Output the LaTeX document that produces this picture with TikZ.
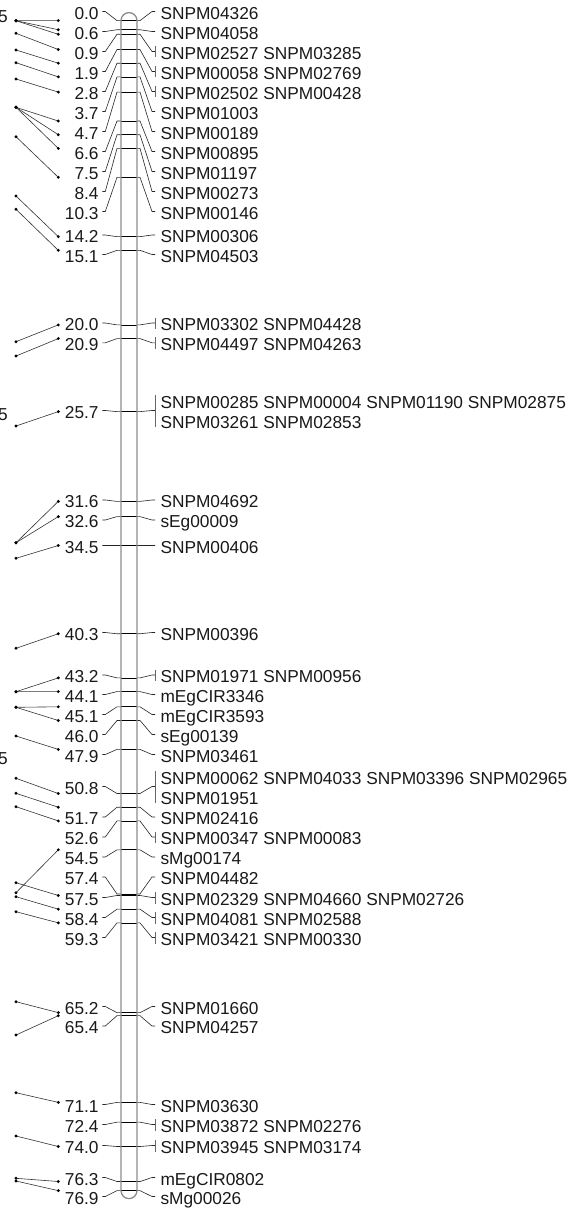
\documentclass[tikz,border=0pt]{standalone}
\usepackage{fontspec}
\setmainfont{Liberation Sans}
\newcommand{\lab}{\fontsize{17.3}{20}\selectfont}
\tikzset{
  numlab/.style={anchor=east, inner sep=0pt, text height=15.2pt, text depth=0pt, font=\lab, text=black!90},
  mlab/.style={anchor=west, inner sep=0pt, text height=15.2pt, text depth=0pt, font=\lab, text=black!90},
  conn/.style={draw=black!85, line width=0.6pt},
  tickl/.style={draw=black, line width=0.7pt},
  chrom/.style={draw=black!45, line width=1.3pt},
  barl/.style={draw=black!60, line width=0.8pt},
  link/.style={draw=black!80, line width=0.6pt},
}
% locus: id, cM, label centre
\newcommand{\Loc}[3]{%
  \coordinate (cl#1) at (121,{20.6+15.215*#2});
  \coordinate (cr#1) at (137,{20.6+15.215*#2});
  \coordinate (r#1) at (58.3,{20.6+15.215*#2});
  \node[numlab] (n#1) at (98.8,{#3-1.5}) {#2};
  \draw[conn] ([xshift=3.5pt]n#1.east) -- ++(3,0) -- ([xshift=-4pt]cl#1) -- (cl#1);
  \draw[tickl] (cl#1) -- (cr#1);
}
\newcommand{\Rs}[3]{%
  \node[mlab] (m#1) at (160.3,{#2-1.5}) {#3};
  \draw[conn] (cr#1) -- ++(3,0) -- ([xshift=-8.3pt]m#1.west) -- ([xshift=-5.3pt]m#1.west);
}
\newcommand{\Rb}[3]{%
  \Rs{#1}{#2}{#3}
  \coordinate (bt#1) at (155,{#2-7});
  \coordinate (bb#1) at (155,{#2+4.5});
  \draw[barl] (bt#1) -- (bb#1);
}
\newcommand{\Rbb}[5]{%
  \node[mlab] (m#1) at (160.3,{#2-1.5}) {#3};
  \node[mlab] (mm#1) at (160.3,{#4-1.5}) {#5};
  \coordinate (bc#1) at (155,{(#2+#4)/2-1.5});
  \coordinate (bt#1) at (155,{#2-7});
  \coordinate (bb#1) at (155,{#4+4.5});
  \draw[barl] (bt#1) -- (bb#1);
  \draw[conn] (cr#1) -- ++(3,0) -- ([xshift=-3pt]bc#1) -- (bc#1);
}
\newcommand{\Lnk}[2]{%
  \draw[link] (#1) -- (#2);
  \fill[black] (#1) circle[radius=1.6];
  \fill[black] (#2) circle[radius=1.6];
}
\begin{document}
\begin{tikzpicture}[x=1pt,y=-1pt]
\useasboundingbox[fill=white] (0,0) rectangle (569,1209);

% loci on the map
\Loc{k1}{0.0}{13}     \Rs{k1}{13}{SNPM04326}
\Loc{k2}{0.6}{33}     \Rs{k2}{33}{SNPM04058}
\Loc{k3}{0.9}{53}     \Rb{k3}{53}{SNPM02527 SNPM03285}
\Loc{k4}{1.9}{73}     \Rb{k4}{73}{SNPM00058 SNPM02769}
\Loc{k5}{2.8}{93}     \Rb{k5}{93}{SNPM02502 SNPM00428}
\Loc{k6}{3.7}{113}    \Rs{k6}{113}{SNPM01003}
\Loc{k7}{4.7}{133}    \Rs{k7}{133}{SNPM00189}
\Loc{k8}{6.6}{153}    \Rs{k8}{153}{SNPM00895}
\Loc{k9}{7.5}{173}    \Rs{k9}{173}{SNPM01197}
\Loc{k10}{8.4}{193}   \Rs{k10}{193}{SNPM00273}
\Loc{k11}{10.3}{213}  \Rs{k11}{213}{SNPM00146}
\Loc{k12}{14.2}{236.5} \Rs{k12}{236.5}{SNPM00306}
\Loc{k13}{15.1}{256}  \Rs{k13}{256}{SNPM04503}
\Loc{k14}{20.0}{324.5} \Rb{k14}{324.5}{SNPM03302 SNPM04428}
\Loc{k15}{20.9}{344.3} \Rb{k15}{344.3}{SNPM04497 SNPM04263}
\Loc{k16}{25.7}{412}  \Rbb{k16}{402}{SNPM00285 SNPM00004 SNPM01190 SNPM02875}{422}{SNPM03261 SNPM02853}
\Loc{k17}{31.6}{501.5} \Rs{k17}{501.5}{SNPM04692}
\Loc{k18}{32.6}{521.5} \Rs{k18}{521.5}{sEg00009}
\Loc{k19}{34.5}{547}  \Rs{k19}{547}{SNPM00406}
\Loc{k20}{40.3}{634}  \Rs{k20}{634}{SNPM00396}
\Loc{k21}{43.2}{676.5} \Rb{k21}{676.5}{SNPM01971 SNPM00956}
\Loc{k22}{44.1}{696}  \Rs{k22}{696}{mEgCIR3346}
\Loc{k23}{45.1}{716}  \Rs{k23}{716}{mEgCIR3593}
\Loc{k24}{46.0}{736}  \Rs{k24}{736}{sEg00139}
\Loc{k25}{47.9}{756}  \Rs{k25}{756}{SNPM03461}
\Loc{k26}{50.8}{788}  \Rbb{k26}{778}{SNPM00062 SNPM04033 SNPM03396 SNPM02965}{798}{SNPM01951}
\Loc{k27}{51.7}{818.5} \Rs{k27}{818.5}{SNPM02416}
\Loc{k28}{52.6}{838.5} \Rb{k28}{838.5}{SNPM00347 SNPM00083}
\Loc{k29}{54.5}{858.5} \Rs{k29}{858.5}{sMg00174}
\Loc{k30}{57.4}{878.5} \Rs{k30}{878.5}{SNPM04482}
\Loc{k31}{57.5}{899}  \Rb{k31}{899}{SNPM02329 SNPM04660 SNPM02726}
\Loc{k32}{58.4}{919}  \Rb{k32}{919}{SNPM04081 SNPM02588}
\Loc{k33}{59.3}{939}  \Rb{k33}{939}{SNPM03421 SNPM00330}
\Loc{k34}{65.2}{1008} \Rs{k34}{1008}{SNPM01660}
\Loc{k35}{65.4}{1027.5} \Rs{k35}{1027.5}{SNPM04257}
\Loc{k36}{71.1}{1106} \Rs{k36}{1106}{SNPM03630}
\Loc{k37}{72.4}{1126} \Rb{k37}{1126}{SNPM03872 SNPM02276}
\Loc{k38}{74.0}{1147} \Rb{k38}{1147}{SNPM03945 SNPM03174}
\Loc{k39}{76.3}{1179} \Rs{k39}{1179}{mEgCIR0802}
\Loc{k40}{76.9}{1198} \Rs{k40}{1198}{sMg00026}

% chromosome outline
\draw[chrom] (121,20.6) arc[start angle=180, end angle=360, radius=8]
  -- (137,1190.6) arc[start angle=0, end angle=180, radius=8] -- cycle;

% partial labels of the neighbouring map
\node[numlab] (f1) at (8,15.2) {5};
\node[numlab] (f2) at (8,412.5) {5};
\node[numlab] (f3) at (8,756.5) {5};

% left ends of the comparison lines
\foreach \i/\y in {1/20.7,2/33.3,3/50,4/62.7,5/79,6/107.3,7/136.7,8/196,9/209.3,
  10/341.7,11/356,12/426,13/542.7,14/558.3,15/648.3,16/691.7,17/707.3,18/736,
  19/778.3,20/793.3,21/806.7,22/892.7,23/882.7,24/896.7,25/911.7,26/1001.7,
  27/1035,28/1092.7,29/1136,30/1178.3,31/1181}
  \coordinate (e\i) at (16,\y);

\Lnk{e1}{rk1} \Lnk{e1}{rk2} \Lnk{e1}{rk3}
\Lnk{e2}{rk4} \Lnk{e3}{rk5} \Lnk{e4}{rk6} \Lnk{e5}{rk7}
\Lnk{e6}{rk8} \Lnk{e6}{rk9} \Lnk{e6}{rk10}
\Lnk{e7}{rk11} \Lnk{e8}{rk12} \Lnk{e9}{rk13}
\Lnk{e10}{rk14} \Lnk{e11}{rk15} \Lnk{e12}{rk16}
\Lnk{e13}{rk17} \Lnk{e13}{rk18} \Lnk{e14}{rk19}
\Lnk{e15}{rk20} \Lnk{e16}{rk21} \Lnk{e16}{rk22}
\Lnk{e17}{rk23} \Lnk{e17}{rk24} \Lnk{e18}{rk25}
\Lnk{e19}{rk26} \Lnk{e20}{rk27} \Lnk{e21}{rk28}
\Lnk{e22}{rk29} \Lnk{e23}{rk31} \Lnk{e24}{rk32} \Lnk{e25}{rk33}
\Lnk{e26}{rk34} \Lnk{e27}{rk35}
\Lnk{e28}{rk36} \Lnk{e29}{rk38}
\Lnk{e30}{rk39} \Lnk{e31}{rk40}
\end{tikzpicture}
\end{document}
